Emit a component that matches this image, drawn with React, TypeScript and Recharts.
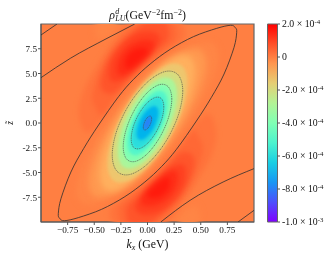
import { BarChart, Bar, ScatterChart, Scatter, XAxis, YAxis, ReferenceArea } from 'recharts'

const SERIF = '"Liberation Serif", serif'

const kxTicks = [-0.75, -0.5, -0.25, 0, 0.25, 0.5, 0.75]
const zTicks = [-7.5, -5, -2.5, 0, 2.5, 5, 7.5]
const barTicks = [-1e-3, -8e-4, -6e-4, -4e-4, -2e-4, 0, 2e-4]
const barLabels = ['-1.0', '-8.0', '-6.0', '-4.0', '-2.0', '0', '2.0']
const barPowers = ['-3', '-4', '-4', '-4', '-4', '', '-4']
const barRange = [{ name: 'rho', range: [-1e-3, 2e-4] }]
const gradientStops = [0, 0.1, 0.2, 0.3, 0.4, 0.5, 0.6, 0.7, 0.8, 0.9, 1]

// closed level curves, [kx, z]
const zeroLine = [[0.65, 9.56], [0.431, 8.72], [0.2125, 7.44], [0.025, 5.96], [-0.131, 4.41], [-0.272, 2.66], [-0.459, -0.2], [-0.6, -2.59], [-0.719, -4.95], [-0.8125, -7.64], [-0.8375, -9.16], [-0.825, -9.63], [-0.781, -9.87], [-0.65, -9.56], [-0.431, -8.72], [-0.2125, -7.44], [-0.025, -5.96], [0.131, -4.41], [0.272, -2.66], [0.459, 0.2], [0.6, 2.59], [0.719, 4.95], [0.8125, 7.64], [0.8375, 9.16], [0.825, 9.63], [0.781, 9.87]]
const negA = [[0.666, 6.73], [0.577, 8.19], [0.333, 7.45], [0, 4.72], [-0.333, 0.72], [-0.577, -3.48], [-0.666, -6.73], [-0.577, -8.19], [-0.333, -7.45], [0, -4.72], [0.333, -0.72], [0.577, 3.48]]
const negAB = [[0.55, 5.99], [0.476, 7.45], [0.275, 6.91], [0, 4.52], [-0.275, 0.92], [-0.476, -2.93], [-0.55, -5.99], [-0.476, -7.45], [-0.275, -6.91], [0, -4.52], [0.275, -0.92], [0.476, 2.93]]
const negB = [[0.447, 5.26], [0.387, 6.77], [0.224, 6.46], [0, 4.42], [-0.224, 1.2], [-0.387, -2.35], [-0.447, -5.26], [-0.387, -6.77], [-0.224, -6.46], [0, -4.42], [0.224, -1.2], [0.387, 2.35]]
const negC = [[0.375, 4.11], [0.325, 5.76], [0.188, 5.87], [0, 4.41], [-0.188, 1.76], [-0.325, -1.36], [-0.375, -4.11], [-0.325, -5.76], [-0.188, -5.87], [0, -4.41], [0.188, -1.76], [0.325, 1.36]]
const neg2 = [[0.331, 3.23], [0.287, 4.87], [0.166, 5.2], [0, 4.14], [-0.166, 1.97], [-0.287, -0.73], [-0.331, -3.23], [-0.287, -4.87], [-0.166, -5.2], [0, -4.14], [0.166, -1.97], [0.287, 0.73]]
const neg3 = [[0.278, 2.83], [0.241, 4.26], [0.139, 4.55], [0, 3.62], [-0.139, 1.73], [-0.241, -0.64], [-0.278, -2.83], [-0.241, -4.26], [-0.139, -4.55], [0, -3.62], [0.139, -1.73], [0.241, 0.64]]
const neg4 = [[0.228, 2.41], [0.197, 3.63], [0.114, 3.88], [0, 3.09], [-0.114, 1.47], [-0.197, -0.54], [-0.228, -2.41], [-0.197, -3.63], [-0.114, -3.88], [0, -3.09], [0.114, -1.47], [0.197, 0.54]]
const neg5 = [[0.19, 2], [0.165, 3.01], [0.095, 3.22], [0, 2.56], [-0.095, 1.22], [-0.165, -0.45], [-0.19, -2], [-0.165, -3.01], [-0.095, -3.22], [0, -2.56], [0.095, -1.22], [0.165, 0.45]]
const neg6 = [[0.153, 1.61], [0.133, 2.43], [0.077, 2.59], [0, 2.06], [-0.077, 0.98], [-0.133, -0.36], [-0.153, -1.61], [-0.133, -2.43], [-0.077, -2.59], [0, -2.06], [0.077, -0.98], [0.133, 0.36]]
const neg7 = [[0.103, 1.06], [0.089, 1.59], [0.052, 1.7], [0, 1.36], [-0.052, 0.65], [-0.089, -0.24], [-0.103, -1.06], [-0.089, -1.59], [-0.052, -1.7], [0, -1.36], [0.052, -0.65], [0.089, 0.24]]
const neg8 = [[0.039, 0.44], [0.034, 0.66], [0.02, 0.7], [0, 0.56], [-0.02, 0.27], [-0.034, -0.1], [-0.039, -0.44], [-0.034, -0.66], [-0.02, -0.7], [0, -0.56], [0.02, -0.27], [0.034, 0.1]]

// the two red lobes, outermost first
const upA = [[-0.584, -0.88], [-0.647, 0.98], [-0.6, 3.33], [-0.459, 6.03], [-0.319, 8.22], [-0.131, 10.4], [0.275, 10.4], [0.353, 8.72], [0.181, 7.37], [-0.006, 5.86], [-0.178, 4.01], [-0.334, 1.99], [-0.475, -0.2]]
const upB = [[-0.475, 1.31], [-0.522, 2.66], [-0.459, 4.85], [-0.334, 7.37], [-0.178, 9.23], [-0.006, 10.4], [0.2125, 10.4], [0.275, 8.72], [0.15, 7.37], [-0.022, 5.86], [-0.178, 4.18], [-0.319, 2.32], [-0.428, 0.81]]
const upC = [[-0.428, 3.33], [-0.428, 4.85], [-0.319, 7.21], [-0.1625, 8.89], [-0.006, 10.2], [0.166, 10.2], [0.197, 8.55], [0.0875, 7.37], [-0.053, 5.86], [-0.194, 4.34], [-0.319, 3]]
const upD = [[-0.35, 4.34], [-0.35, 6.03], [-0.241, 7.88], [-0.1, 9.06], [0.056, 9.23], [0.119, 8.38], [0.025, 7.04], [-0.1, 5.69], [-0.241, 4.34]]
const upE = [[-0.281, 5.02], [-0.272, 6.36], [-0.178, 7.71], [-0.053, 8.38], [0.056, 8.22], [0.041, 7.21], [-0.084, 5.86], [-0.209, 4.85]]
const upF = [[-0.209, 5.69], [-0.194, 6.7], [-0.116, 7.44], [-0.022, 7.54], [-0.006, 7.04], [-0.1, 6.03], [-0.178, 5.52]]
const lowA = [[0.584, 0.88], [0.647, -0.98], [0.6, -3.33], [0.459, -6.03], [0.319, -8.22], [0.131, -10.4], [-0.275, -10.4], [-0.353, -8.72], [-0.181, -7.37], [0.006, -5.86], [0.178, -4.01], [0.334, -1.99], [0.475, 0.2]]
const lowB = [[0.475, -1.31], [0.522, -2.66], [0.459, -4.85], [0.334, -7.37], [0.178, -9.23], [0.006, -10.4], [-0.2125, -10.4], [-0.275, -8.72], [-0.15, -7.37], [0.022, -5.86], [0.178, -4.18], [0.319, -2.32], [0.428, -0.81]]
const lowC = [[0.428, -3.33], [0.428, -4.85], [0.319, -7.21], [0.1625, -8.89], [0.006, -10.2], [-0.166, -10.2], [-0.197, -8.55], [-0.0875, -7.37], [0.053, -5.86], [0.194, -4.34], [0.319, -3]]
const lowD = [[0.35, -4.34], [0.35, -6.03], [0.241, -7.88], [0.1, -9.06], [-0.056, -9.23], [-0.119, -8.38], [-0.025, -7.04], [0.1, -5.69], [0.241, -4.34]]
const lowE = [[0.281, -5.02], [0.272, -6.36], [0.178, -7.71], [0.053, -8.38], [-0.056, -8.22], [-0.041, -7.21], [0.084, -5.86], [0.209, -4.85]]
const lowF = [[0.209, -5.69], [0.194, -6.7], [0.116, -7.44], [0.022, -7.54], [0.006, -7.04], [0.1, -6.03], [0.178, -5.52]]

// faint pale patches by the top and bottom edge
const paleTop = [[-0.49, 9.06], [-0.475, 10.4], [-0.2875, 10.4], [-0.319, 9.23], [-0.444, 8.38]]
const paleBottom = [[0.49, -9.06], [0.475, -10.4], [0.2875, -10.4], [0.319, -9.23], [0.444, -8.38]]

// open level curves in the corners
const cornerTL = [[-1, 8.89], [-0.85, 10]]
const lineTL = [[-1, 4.58], [-0.725, 6.53], [-0.38, 8.55], [-0.12, 10]]
const lineBR = [[1, -4.61], [0.71, -5.96], [0.4, -7.81], [0.125, -10]]
const cornerBR = [[0.85, -10], [1, -8.82]]

const fillBands: [number, number[][]][] = [
  [-0.1e-4, paleTop], [-0.1e-4, paleBottom],
  [0.2e-4, upA], [0.2e-4, lowA],
  [0.4e-4, upB], [0.4e-4, lowB],
  [0.7e-4, upC], [0.7e-4, lowC],
  [1e-4, upD], [1e-4, lowD],
  [1.3e-4, upE], [1.3e-4, lowE],
  [1.6e-4, upF], [1.6e-4, lowF],
  [-0.12e-4, negA], [-0.45e-4, negAB], [-0.9e-4, negB], [-1.4e-4, negC], [-2e-4, neg2], [-3e-4, neg3],
  [-4e-4, neg4], [-5e-4, neg5], [-6e-4, neg6], [-7e-4, neg7], [-8e-4, neg8],
]
const dashedCurves = [neg2, neg4, neg6, neg8]
const openCurves = [cornerTL, lineTL, lineBR, cornerBR]

const toPoints = (pts: number[][]) => pts.map(([kx, z]) => ({ kx, z }))

// matplotlib "rainbow" between -1e-3 and 2e-4
function rainbow(t: number) {
  const r = Math.abs(2 * t - 0.5)
  const g = Math.sin(Math.PI * t)
  const b = Math.cos((Math.PI * t) / 2)
  return `rgb(${Math.round(r * 255)},${Math.round(g * 255)},${Math.round(b * 255)})`
}
const levelColor = (v: number) => rainbow((v + 1e-3) / 1.2e-3)

function closedPath(p: { x: number; y: number }[]) {
  const n = p.length
  let d = `M${p[0].x},${p[0].y}`
  for (let i = 0; i < n; i++) {
    const a = p[(i - 1 + n) % n]
    const b = p[i]
    const c = p[(i + 1) % n]
    const e = p[(i + 2) % n]
    d += `C${b.x + (c.x - a.x) / 6},${b.y + (c.y - a.y) / 6} ${c.x - (e.x - b.x) / 6},${c.y - (e.y - b.y) / 6} ${c.x},${c.y}`
  }
  return d + 'Z'
}

const noDot = () => <g />

const softness = (v: number) => (v > 0 ? 2.6 : v > -1e-4 ? 3 : 1.6)

const fillLine = (color: string, soft: number) => (props: any) => (
  <path d={closedPath(props.points)} fill={color} stroke="none" style={{ filter: `blur(${soft}px)` }} />
)
const strokeLine = (color: string, width: number, dash?: string) => (props: any) => (
  <path d={closedPath(props.points)} fill="none" stroke={color} strokeWidth={width} strokeDasharray={dash} />
)

function BarTick({ x, y, index }: any) {
  const power = barPowers[index]
  return (
    <text x={x} y={y + 3} fontFamily={SERIF} fontSize={9.8} fill="#111">
      {barLabels[index]}
      {power && ' × 10'}
      {power && <tspan dy={-3.5} fontSize={6.8}>{power}</tspan>}
    </text>
  )
}

export default function App() {
  return (
    <div style={{ position: 'absolute', left: 0, top: 0, width: 335, height: 258, filter: 'blur(0.4px)' }}>
      <div style={{ position: 'absolute', left: 0, top: 0 }}>
        <ScatterChart width={335} height={258} margin={{ top: 24, right: 81, bottom: 16, left: 11 }}>
          <XAxis
            type="number"
            dataKey="kx"
            domain={[-1, 1]}
            ticks={kxTicks}
            allowDataOverflow
            height={20}
            tickSize={3}
            tickMargin={1}
            tickFormatter={(v: number) => (v < 0 ? '−' : '') + Math.abs(v).toFixed(2)}
            tick={{ fontFamily: SERIF, fontSize: 9.2, fill: '#111' }}
            stroke="#555"
            interval={0}
          />
          <YAxis
            type="number"
            dataKey="z"
            domain={[-10, 10]}
            ticks={zTicks}
            allowDataOverflow
            width={30}
            tickSize={3}
            tickMargin={1}
            tickFormatter={(v: number) => v.toFixed(1)}
            tick={{ fontFamily: SERIF, fontSize: 9.2, fill: '#111' }}
            stroke="#555"
            interval={0}
          />
          <ReferenceArea x1={-1} x2={1} y1={-10} y2={10} fill={levelColor(0)} fillOpacity={1} stroke="none" />
          {fillBands.map(([v, pts], i) => (
            <Scatter key={'f' + i} data={toPoints(pts)} shape={noDot} line={fillLine(levelColor(v), softness(v))} isAnimationActive={false} />
          ))}
          <Scatter data={toPoints(zeroLine)} shape={noDot} line={strokeLine('#2e2e2e', 0.8)} isAnimationActive={false} />
          {dashedCurves.map((pts, i) => (
            <Scatter key={'d' + i} data={toPoints(pts)} shape={noDot} line={strokeLine('#444', 0.6, '1.2 0.7')} isAnimationActive={false} />
          ))}
          {openCurves.map((pts, i) => (
            <Scatter key={'o' + i} data={toPoints(pts)} shape={noDot} line={{ stroke: '#2e2e2e', strokeWidth: 0.8 }} lineJointType="monotoneX" isAnimationActive={false} />
          ))}
          <ReferenceArea x1={-1} x2={1} y1={-10} y2={10} fill="none" stroke="#666" strokeWidth={1.2} />
          <text x={147.5} y={19} textAnchor="middle" fontFamily={SERIF} fontSize={11.8} fill="#111">
            <tspan fontStyle="italic">ρ</tspan>
            <tspan fontStyle="italic" fontSize={8} dy={-5} dx={0.5}>d</tspan>
            <tspan fontStyle="italic" fontSize={8} dy={7} dx={-4}>LU</tspan>
            <tspan dy={-2}>(GeV</tspan>
            <tspan fontSize={8} dy={-4}>−2</tspan>
            <tspan dy={4}>fm</tspan>
            <tspan fontSize={8} dy={-4}>−2</tspan>
            <tspan dy={4}>)</tspan>
          </text>
          <text x={147.5} y={248} textAnchor="middle" fontFamily={SERIF} fontSize={11.8} fill="#111">
            <tspan fontStyle="italic">k</tspan>
            <tspan fontStyle="italic" fontSize={8} dy={2}>x</tspan>
            <tspan dy={-2}> (GeV)</tspan>
          </text>
          <text transform="translate(13,123) rotate(-90)" textAnchor="middle" fontFamily={SERIF} fontStyle="italic" fontSize={9.5} fill="#111">z̃</text>
          <text x={207} y={210} fontFamily={SERIF} fontSize={12} fill="#ffe6d6">
            <tspan fontStyle="italic">x</tspan>=0.40
          </text>
        </ScatterChart>
      </div>
      <div style={{ position: 'absolute', left: 0, top: 0 }}>
        <BarChart width={335} height={258} data={barRange} barCategoryGap={0} margin={{ top: 24, right: 0, bottom: 36, left: 267.5 }}>
          <defs>
            <linearGradient id="rainbowBar" x1="0" y1="1" x2="0" y2="0">
              {gradientStops.map(t => (
                <stop key={t} offset={t} stopColor={rainbow(t)} />
              ))}
            </linearGradient>
          </defs>
          <XAxis dataKey="name" hide />
          <YAxis
            orientation="right"
            type="number"
            domain={[-1e-3, 2e-4]}
            ticks={barTicks}
            width={57.5}
            axisLine={false}
            tickSize={2.5}
            tickMargin={2}
            stroke="#555"
            tick={<BarTick />}
            interval={0}
          />
          <Bar dataKey="range" fill="url(#rainbowBar)" stroke="#666" strokeWidth={1} isAnimationActive={false} />
        </BarChart>
      </div>
    </div>
  )
}
